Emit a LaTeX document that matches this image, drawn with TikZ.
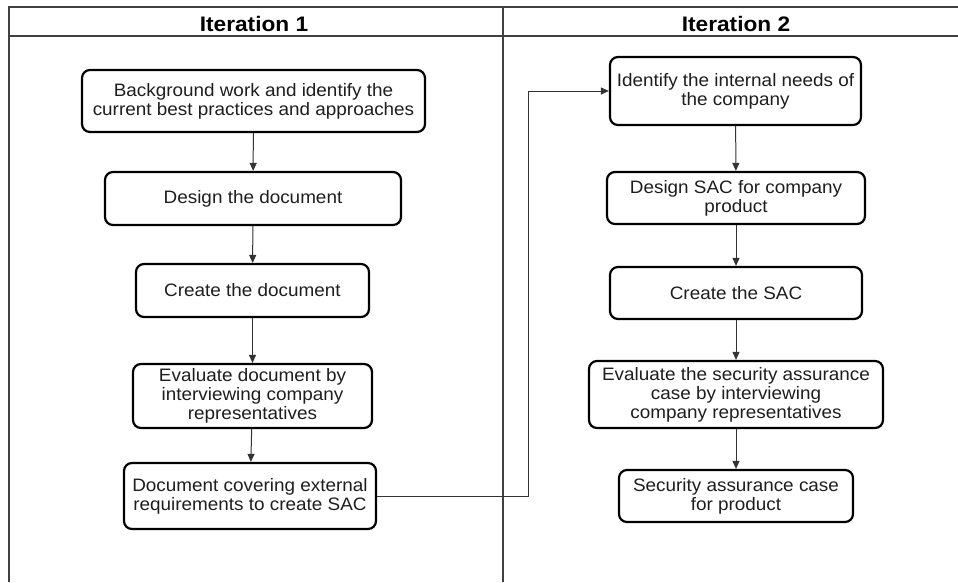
\documentclass[tikz,border=0pt]{standalone}
\usepackage{fontspec}
\setmainfont{Liberation Sans}[FakeStretch=1.05]
\newfontfamily\headfont{Liberation Sans}[FakeStretch=1.08]
\usetikzlibrary{arrows.meta}
\definecolor{txt}{HTML}{1E1E1E}
\tikzset{
  stepbox/.style={draw=black, line width=2.2pt, rounded corners=8pt, inner sep=0pt,
    align=center, text=txt, font=\fontsize{18}{19}\selectfont},
  flow/.style={draw=black!80, line width=1pt, -{Triangle[length=8pt,width=7pt]}},
  lane/.style={draw=black!75, line width=1.3pt},
  headtext/.style={text=black, font=\headfont\bfseries\fontsize{21}{22}\selectfont},
}
\begin{document}
\begin{tikzpicture}[x=1pt,y=-1pt]
\useasboundingbox (0,0) rectangle (958,582);

% swimlane frame
\draw[lane] (958,7) -- (9,7) -- (9,582);
\draw[lane] (9,36) -- (958,36);
\draw[lane] (503,7) -- (503,582);
\node[headtext] (h1) at (254,24) {Iteration 1};
\node[headtext] (h2) at (736,24) {Iteration 2};

% first iteration
\node[stepbox, minimum width=343pt, minimum height=62pt] (b1) at (253.5,101)
  {Background work and identify the\\current best practices and approaches};
\node[stepbox, minimum width=296pt, minimum height=53pt] (b2) at (253,198.5)
  {Design the document};
\node[stepbox, minimum width=233pt, minimum height=53pt] (b3) at (252.5,290.5)
  {Create the document};
\node[stepbox, minimum width=239pt, minimum height=64pt] (b4) at (252.5,396)
  {Evaluate document by\\interviewing company\\representatives};
\node[stepbox, minimum width=252pt, minimum height=66pt] (b5) at (250,496)
  {Document covering external\\requirements to create SAC};

% second iteration
\node[stepbox, minimum width=251pt, minimum height=68pt] (c1) at (735.5,91)
  {Identify the internal needs of\\the company};
\node[stepbox, minimum width=258pt, minimum height=52pt] (c2) at (736,198)
  {Design SAC for company\\product};
\node[stepbox, minimum width=252pt, minimum height=52pt] (c3) at (736,293)
  {Create the SAC};
\node[stepbox, minimum width=294pt, minimum height=67pt] (c4) at (736,394.5)
  {Evaluate the security assurance\\case by interviewing\\company representatives};
\node[stepbox, minimum width=234pt, minimum height=52pt] (c5) at (736,496)
  {Security assurance case\\for product};

% flow arrows
\draw[flow] (b1) -- (b2);
\draw[flow] (b2) -- (b3);
\draw[flow] (b3) -- (b4);
\draw[flow] (b4) -- (b5);
\draw[flow] (c1) -- (c2);
\draw[flow] (c2) -- (c3);
\draw[flow] (c3) -- (c4);
\draw[flow] (c4) -- (c5);

% hand-over between iterations
\coordinate (turn) at (528,496);
\draw[flow] (b5.east) -- (turn) |- (c1.west);
\end{tikzpicture}
\end{document}
